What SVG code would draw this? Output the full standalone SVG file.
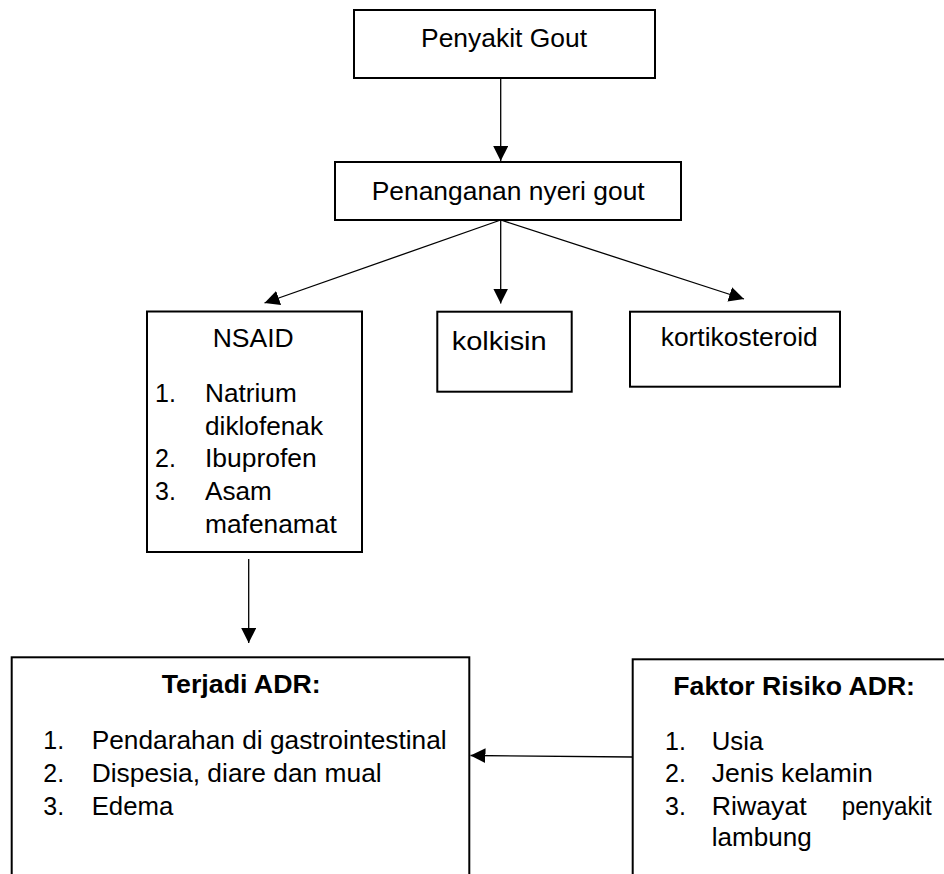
<svg xmlns="http://www.w3.org/2000/svg" width="944" height="874" viewBox="0 0 944 874">
<style>
.box{fill:#fff;stroke:#000;stroke-width:2}
.t{font-family:"Liberation Sans",Arial,sans-serif;font-size:25px;fill:#000}
.b{font-weight:bold}
.ln{stroke:#000;stroke-width:1.3;fill:none;marker-end:url(#ah)}
</style>
<defs>
<marker id="ah" viewBox="0 0 16 16" refX="16" refY="8" markerWidth="15" markerHeight="15" markerUnits="userSpaceOnUse" orient="auto">
<path d="M0,0 L16,8 L0,16 z" fill="#000"/>
</marker>
</defs>
<rect width="944" height="874" fill="#fff"/>
<g id="connectors">
<line class="ln" x1="500.7" y1="78" x2="500.7" y2="161"/>
<line class="ln" x1="500.7" y1="220" x2="264.5" y2="303"/>
<line class="ln" x1="500.7" y1="220" x2="500.7" y2="303.5"/>
<line class="ln" x1="500.7" y1="220" x2="744" y2="299"/>
<line class="ln" x1="248.7" y1="559" x2="248.7" y2="643"/>
<line class="ln" x1="632" y1="757" x2="470.5" y2="755.5"/>
</g>
<g id="penyakit-gout">
<rect class="box" x="354" y="10" width="301" height="68"/>
<text class="t" x="421" y="47" textLength="166" lengthAdjust="spacingAndGlyphs">Penyakit Gout</text>
</g>
<g id="penanganan">
<rect class="box" x="335" y="162" width="346" height="58"/>
<text class="t" x="371.7" y="200" textLength="273" lengthAdjust="spacingAndGlyphs">Penanganan nyeri gout</text>
</g>
<g id="nsaid">
<rect class="box" x="147" y="311.5" width="215" height="240.5"/>
<text class="t" x="212.7" y="346.7" textLength="81" lengthAdjust="spacingAndGlyphs">NSAID</text>
<text class="t" x="155" y="401.7">1.</text>
<text class="t" x="205" y="401.7" textLength="91.7" lengthAdjust="spacingAndGlyphs">Natrium</text>
<text class="t" x="205" y="435" textLength="118" lengthAdjust="spacingAndGlyphs">diklofenak</text>
<text class="t" x="155" y="467">2.</text>
<text class="t" x="205" y="467" textLength="111.7" lengthAdjust="spacingAndGlyphs">Ibuprofen</text>
<text class="t" x="155" y="500">3.</text>
<text class="t" x="205" y="500" textLength="66.7" lengthAdjust="spacingAndGlyphs">Asam</text>
<text class="t" x="205" y="533.3" textLength="131.7" lengthAdjust="spacingAndGlyphs">mafenamat</text>
</g>
<g id="kolkisin">
<rect class="box" x="437.3" y="311.7" width="134.4" height="80"/>
<text class="t" x="451.7" y="350" textLength="95" lengthAdjust="spacingAndGlyphs">kolkisin</text>
</g>
<g id="kortikosteroid">
<rect class="box" x="630" y="311.7" width="210" height="75"/>
<text class="t" x="660.7" y="346" textLength="157" lengthAdjust="spacingAndGlyphs">kortikosteroid</text>
</g>
<g id="terjadi-adr">
<rect class="box" x="11.7" y="657.3" width="457.6" height="240"/>
<text class="t b" x="161.7" y="693.3" textLength="159" lengthAdjust="spacingAndGlyphs">Terjadi ADR:</text>
<text class="t" x="43.3" y="749.3">1.</text>
<text class="t" x="91.7" y="749.3" textLength="355" lengthAdjust="spacingAndGlyphs">Pendarahan di gastrointestinal</text>
<text class="t" x="43.3" y="781.7">2.</text>
<text class="t" x="91.7" y="781.7" textLength="290" lengthAdjust="spacingAndGlyphs">Dispesia, diare dan mual</text>
<text class="t" x="43.3" y="815">3.</text>
<text class="t" x="91.7" y="815" textLength="81.6" lengthAdjust="spacingAndGlyphs">Edema</text>
</g>
<g id="faktor-risiko">
<rect class="box" x="632.7" y="659.3" width="340" height="240"/>
<text class="t b" x="673.3" y="695" textLength="241.7" lengthAdjust="spacingAndGlyphs">Faktor Risiko ADR:</text>
<text class="t" x="665" y="750">1.</text>
<text class="t" x="711.7" y="750" textLength="51.6" lengthAdjust="spacingAndGlyphs">Usia</text>
<text class="t" x="665" y="781.7">2.</text>
<text class="t" x="711.7" y="781.7" textLength="161" lengthAdjust="spacingAndGlyphs">Jenis kelamin</text>
<text class="t" x="665" y="815">3.</text>
<text class="t" x="711.7" y="815" textLength="95" lengthAdjust="spacingAndGlyphs">Riwayat</text>
<text class="t" x="841.7" y="815" textLength="90" lengthAdjust="spacingAndGlyphs">penyakit</text>
<text class="t" x="711.7" y="846" textLength="100" lengthAdjust="spacingAndGlyphs">lambung</text>
</g>
</svg>
